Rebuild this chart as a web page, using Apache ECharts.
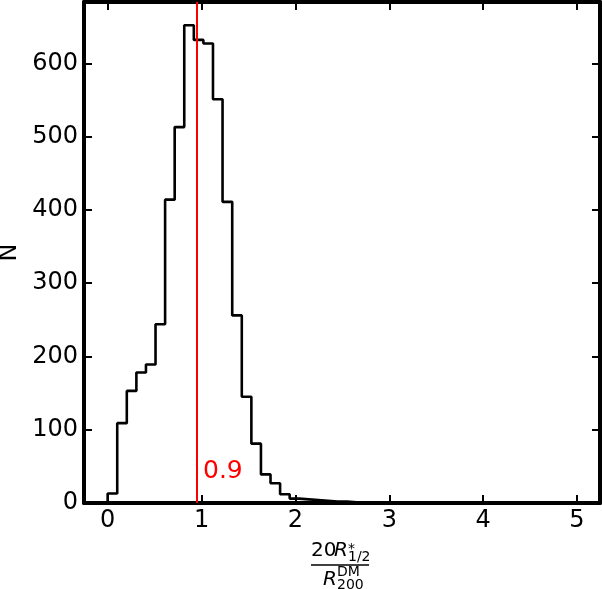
<!DOCTYPE html>
<html>
<head>
<meta charset="utf-8">
<script src="https://cdn.jsdelivr.net/npm/echarts@6/dist/echarts.min.js"></script>
<style>
html,body{margin:0;padding:0;background:#fff;}
#chart{width:602px;height:589px;}
</style>
</head>
<body>
<div id="chart"></div>
<script>
// Histogram bin edges (x) and counts (N)
var binEdges = [0.000,0.102,0.204,0.306,0.408,0.510,0.612,0.714,0.816,0.918,
                1.020,1.122,1.224,1.327,1.429,1.531,1.633,1.735,1.837,1.939,
                2.041,2.143,2.245,2.347,2.449,2.551,2.653,2.755,2.857,2.959,
                3.061,3.163,3.265,3.367,3.469,3.571,3.673,3.776,3.878,3.980,
                4.082,4.184,4.286,4.388,4.490,4.592,4.694,4.796,4.898,5.000];
var counts = [13,109,153,178,189,244,414,513,652,632,
              627,551,411,256,145,81,39,27,12,6,
              5,4,3,2,2,1,1,0,1,0,
              0,0,0,0,0,0,0,0,0,0,
              0,0,0,0,0,0,0,0,0];
var xTicks = [0,1,2,3,4,5];
var yTicks = [0,100,200,300,400,500,600];
var medianValue = 0.948;
var medianLabel = '0.9';
var xRange = [-0.252, 5.245];
var yRange = [0, 683.7];

var stepData = [[binEdges[0], 0]];
for (var i = 0; i < counts.length; i++) stepData.push([binEdges[i], counts[i]]);
stepData.push([binEdges[binEdges.length - 1], 0]);

var FONT = 'DejaVu Sans';
var chart = echarts.init(document.getElementById('chart'), null, {renderer: 'canvas'});

function axisCommon(extra) {
  return Object.assign({
    type: 'value',
    axisLine: {show: true, onZero: false, lineStyle: {color: '#000', width: 4}},
    axisTick: {show: true, inside: true, length: 8, lineStyle: {color: '#000', width: 2}},
    splitLine: {show: false}
  }, extra);
}

chart.setOption({
  animation: false,
  backgroundColor: '#fff',
  grid: {left: 84, right: 2, top: 2, bottom: 86, containLabel: false, outerBoundsMode: 'none'},
  xAxis: [
    axisCommon({
      position: 'bottom', min: xRange[0], max: xRange[1],
      axisTick: {show: true, inside: true, length: 8, customValues: xTicks, lineStyle: {color: '#000', width: 2}},
      axisLabel: {show: true, customValues: xTicks, margin: 6, color: '#000', fontFamily: FONT, fontSize: 24}
    }),
    axisCommon({
      position: 'top', min: xRange[0], max: xRange[1],
      axisTick: {show: true, inside: true, length: 8, customValues: xTicks, lineStyle: {color: '#000', width: 2}},
      axisLabel: {show: false}
    })
  ],
  yAxis: [
    axisCommon({
      position: 'left', min: yRange[0], max: yRange[1],
      name: 'N', nameLocation: 'middle', nameGap: 59, nameRotate: 90,
      nameTextStyle: {color: '#000', fontFamily: FONT, fontSize: 24},
      axisTick: {show: true, inside: true, length: 8, customValues: yTicks, lineStyle: {color: '#000', width: 2}},
      axisLabel: {show: true, customValues: yTicks, margin: 6, color: '#000', fontFamily: FONT, fontSize: 24}
    }),
    axisCommon({
      position: 'right', min: yRange[0], max: yRange[1],
      axisTick: {show: true, inside: true, length: 8, customValues: yTicks, lineStyle: {color: '#000', width: 2}},
      axisLabel: {show: false}
    })
  ],
  series: [{
    type: 'line',
    step: 'end',
    xAxisIndex: 0, yAxisIndex: 0,
    data: stepData,
    symbol: 'none',
    lineStyle: {color: '#000', width: 2.6},
    z: 3,
    markLine: {
      silent: true,
      symbol: 'none',
      animation: false,
      lineStyle: {color: '#ff0000', width: 2, type: 'solid'},
      label: {show: false},
      data: [{xAxis: medianValue}]
    }
  }],
  graphic: [
    {type: 'text', left: 203, top: 459, style: {text: medianLabel, fill: '#ff0000', font: '25px "DejaVu Sans"'}},
    {type: 'text', x: 311, y: 551, style: {text: '20', fill: '#000', font: '20px "DejaVu Sans"', verticalAlign: 'middle', align: 'left'}},
    {type: 'text', x: 334, y: 551, style: {text: 'R', fill: '#000', font: 'italic 20px "DejaVu Sans"', verticalAlign: 'middle', align: 'left'}},
    {type: 'text', x: 348, y: 549, style: {text: '*', fill: '#000', font: '14px "DejaVu Sans"', verticalAlign: 'middle', align: 'left'}},
    {type: 'text', x: 348, y: 557, style: {text: '1/2', fill: '#000', font: '14px "DejaVu Sans"', verticalAlign: 'middle', align: 'left'}},
    {type: 'line', shape: {x1: 311, y1: 565, x2: 369, y2: 565}, style: {stroke: '#000', lineWidth: 1.3}},
    {type: 'text', x: 323, y: 580, style: {text: 'R', fill: '#000', font: 'italic 20px "DejaVu Sans"', verticalAlign: 'middle', align: 'left'}},
    {type: 'text', x: 337, y: 572, style: {text: 'DM', fill: '#000', font: '14px "DejaVu Sans"', verticalAlign: 'middle', align: 'left'}},
    {type: 'text', x: 337, y: 585, style: {text: '200', fill: '#000', font: '14px "DejaVu Sans"', verticalAlign: 'middle', align: 'left'}}
  ]
});
</script>
</body>
</html>
